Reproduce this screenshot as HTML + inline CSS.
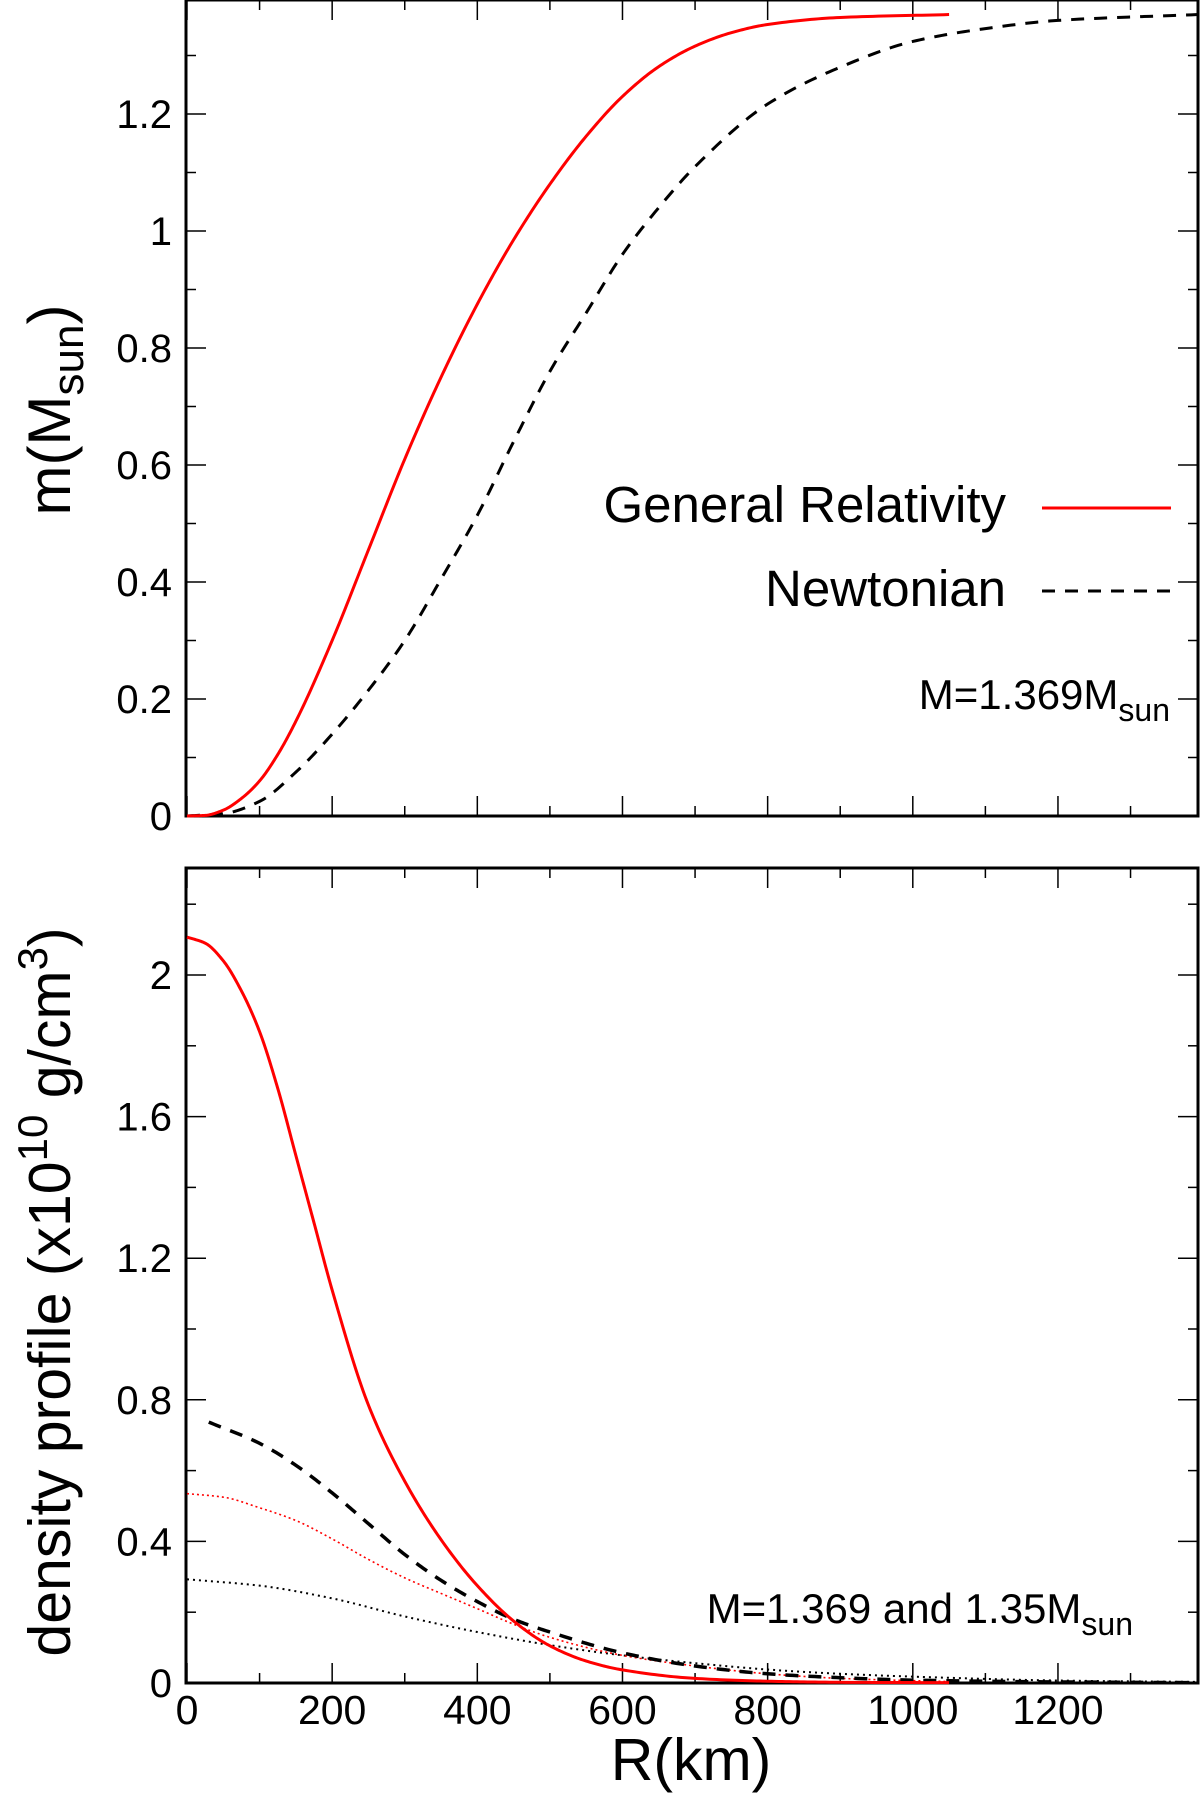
<!DOCTYPE html>
<html><head><meta charset="utf-8"><style>
html,body{margin:0;padding:0;background:#fff}
svg{display:block;font-family:"Liberation Sans",Arial,sans-serif}
</style></head><body>
<svg id="chart" width="1200" height="1803" viewBox="0 0 1200 1803" xmlns="http://www.w3.org/2000/svg"></svg>
<script>
const rGrid=[0,25,50,75,100,125,150,200,250,300,350,400,450,500,550,600,650,700,750,800,900,1050];
const massGR=[0,0.001,0.01,0.03,0.06,0.105,0.162,0.30,0.455,0.61,0.75,0.875,0.985,1.08,1.162,1.23,1.281,1.316,1.339,1.353,1.365,1.37];
const rNewt=[0,50,100,150,200,250,300,350,400,450,500,550,600,650,700,800,900,1000,1100,1200,1393];
const massNewt=[0,0.004,0.025,0.075,0.14,0.215,0.30,0.405,0.514,0.64,0.76,0.86,0.96,1.04,1.11,1.217,1.28,1.324,1.346,1.36,1.37];
const rDensGR=[0,25,50,75,100,125,150,175,200,250,300,350,400,450,500,550,600,700,800,900,1050];
const densGR=[2.107,2.09,2.04,1.955,1.84,1.68,1.49,1.30,1.11,0.785,0.57,0.405,0.275,0.175,0.105,0.062,0.037,0.013,0.005,0.002,0.001];
const rDensN=[30,100,150,200,250,300,350,400,450,500,600,700,800,900,1000,1200,1393];
const densNewt=[0.737,0.677,0.615,0.537,0.45,0.363,0.29,0.23,0.18,0.144,0.085,0.048,0.026,0.015,0.008,0.003,0.001];
const rDensGR2=[0,50,100,150,200,250,300,350,400,450,500,600,700,800,900,1050];
const densGR2=[0.535,0.525,0.495,0.459,0.407,0.349,0.297,0.253,0.21,0.166,0.129,0.078,0.048,0.026,0.013,0.004];
const rDensN2=[0,100,200,300,400,500,600,700,800,900,1000,1200,1393];
const densNewt2=[0.293,0.275,0.239,0.188,0.144,0.107,0.078,0.056,0.038,0.026,0.018,0.007,0.003];
const xTicks=[0,200,400,600,800,1000,1200];
const yTicksTop=[0,0.2,0.4,0.6,0.8,1,1.2];
const yTicksBot=[0,0.4,0.8,1.2,1.6,2];

const svg=document.getElementById('chart');
const NS='http://www.w3.org/2000/svg';
const L=186,R=1198;
const xS=v=>187+v*0.7258;
const yTop=v=>816-v*585;
const yBot=v=>1683-v*354;
function mk(t,a,txt){const e=document.createElementNS(NS,t);for(const k in a)e.setAttribute(k,a[k]);if(txt!==undefined)e.textContent=txt;svg.appendChild(e);return e;}
// monotone cubic (Fritsch-Carlson) interpolation, sampled densely
function path(xs,ys,yf){
  const n=xs.length,h=[],d=[],m=new Array(n);
  for(let i=0;i<n-1;i++){h[i]=xs[i+1]-xs[i];d[i]=(ys[i+1]-ys[i])/h[i];}
  m[0]=d[0];m[n-1]=d[n-2];
  for(let i=1;i<n-1;i++){ if(d[i-1]*d[i]<=0)m[i]=0; else {const w1=2*h[i]+h[i-1],w2=h[i]+2*h[i-1];m[i]=(w1+w2)/(w1/d[i-1]+w2/d[i]);} }
  let s='';
  for(let i=0;i<n-1;i++){
    const N=20;
    for(let k=(i===0?0:1);k<=N;k++){const t=k/N,x=xs[i]+t*h[i];
      const h00=2*t*t*t-3*t*t+1,h10=t*t*t-2*t*t+t,h01=-2*t*t*t+3*t*t,h11=t*t*t-t*t;
      const y=h00*ys[i]+h10*h[i]*m[i]+h01*ys[i+1]+h11*h[i]*m[i+1];
      s+=(s?' L':'M')+xS(x).toFixed(2)+','+yf(y).toFixed(2);}
  }
  return s;
}

function frame(top,bot,yf,yTicks,minorStep,ymax,nm){
  const f=mk('rect',{x:L,y:top,width:R-L,height:bot-top,fill:'none',stroke:'#000','stroke-width':3});
  
  for(let v=0;v<=1393;v+=100){const maj=v%200===0,len=maj?20:10,x=xS(v);
    const t1=mk('line',{x1:x,x2:x,y1:bot,y2:bot-len,stroke:'#000','stroke-width':1.5});
    
    const t2=mk('line',{x1:x,x2:x,y1:top,y2:top+len,stroke:'#000','stroke-width':1.5});
    }
  for(let v=0;v<=ymax+1e-9;v+=minorStep){const maj=yTicks.some(t=>Math.abs(t-v)<1e-6),len=maj?20:10,y=yf(v);
    const t1=mk('line',{x1:L,x2:L+len,y1:y,y2:y,stroke:'#000','stroke-width':1.5});
    
    const t2=mk('line',{x1:R,x2:R-len,y1:y,y2:y,stroke:'#000','stroke-width':1.5});
    }
  yTicks.forEach(v=>{const t=mk('text',{x:172,y:yf(v)+14,'text-anchor':'end','font-size':40},String(v));
    });
}
frame(0,816,yTop,yTicksTop,0.1,1.39,'mass-panel');
frame(868,1683,yBot,yTicksBot,0.2,2.3,'density-panel');
xTicks.forEach(v=>{const t=mk('text',{x:xS(v),y:1724,'text-anchor':'middle','font-size':41},String(v));
  });

function series(xs,ys,yf,st,nm){const e=mk('path',Object.assign({d:path(xs,ys,yf),fill:'none','stroke-linejoin':'round'},st));
  }
series(rNewt,massNewt,yTop,{stroke:'#000','stroke-width':3,'stroke-dasharray':'13 10'},'mass-newtonian-line');
series(rGrid,massGR,yTop,{stroke:'#f00','stroke-width':3},'mass-gr-line');
series(rDensN2,densNewt2,yBot,{stroke:'#000','stroke-width':2,'stroke-dasharray':'2 4'},'density-newtonian-1.35-line');
series(rDensGR2,densGR2,yBot,{stroke:'#f00','stroke-width':1.6,'stroke-dasharray':'2 3'},'density-gr-1.35-line');
series(rDensN,densNewt,yBot,{stroke:'#000','stroke-width':3.5,'stroke-dasharray':'13 10'},'density-newtonian-line');
series(rDensGR,densGR,yBot,{stroke:'#f00','stroke-width':3},'density-gr-line');
</script>
<svg style="position:absolute;left:0;top:0" width="1200" height="1803">
<g font-family="Liberation Sans, Arial, sans-serif">
<text x="1006" y="522" text-anchor="end" font-size="51">General Relativity</text>
<line x1="1042" x2="1171" y1="508" y2="508" stroke="#f00" stroke-width="3"/>
<text x="1006" y="606" text-anchor="end" font-size="51">Newtonian</text>
<line x1="1042" x2="1171" y1="591" y2="591" stroke="#000" stroke-width="3" stroke-dasharray="13 10"/>
<text x="1170" y="709" text-anchor="end" font-size="42">M=1.369M<tspan font-size="32" dy="12">sun</tspan></text>
<text x="1133" y="1623" text-anchor="end" font-size="42">M=1.369 and 1.35M<tspan font-size="32" dy="12">sun</tspan></text>
<text transform="translate(70,410) rotate(-90)" text-anchor="middle" font-size="60">m(M<tspan font-size="44" dy="13">sun</tspan><tspan dy="-13">)</tspan></text>
<text transform="translate(70,1292) rotate(-90)" text-anchor="middle" font-size="59">density profile (x10<tspan font-size="42" dy="-23">10</tspan><tspan dy="23"> g/cm</tspan><tspan font-size="42" dy="-23">3</tspan><tspan dy="23">)</tspan></text>
<text x="691" y="1780" text-anchor="middle" font-size="59">R(km)</text>
</g></svg>
</body></html>
